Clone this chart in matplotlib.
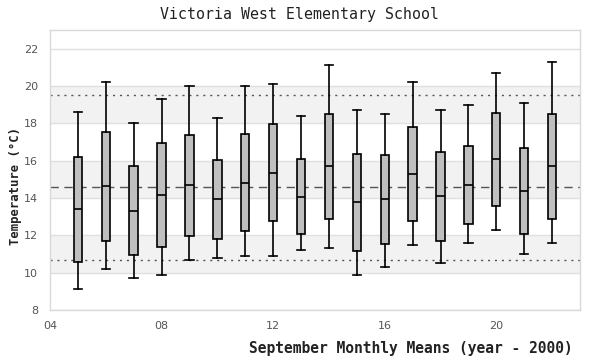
import numpy as np
import matplotlib
matplotlib.use("Agg")
import matplotlib.pyplot as plt

# data (year - 2000)
years = [5, 6, 7, 8, 9, 10, 11, 12, 13, 14, 15, 16, 17, 18, 19, 20, 21, 22]
whislo = [9.13, 10.20, 9.71, 9.88, 10.68, 10.79, 10.89, 10.89, 11.21,
          11.32, 9.88, 10.30, 11.48, 10.52, 11.59, 12.29, 11.00, 11.59]
q1 = [10.59, 11.70, 10.95, 11.38, 11.96, 11.80, 12.23, 12.77, 12.09,
      12.88, 11.16, 11.54, 12.77, 11.70, 12.61, 13.57, 12.07, 12.88]
med = [13.41, 14.64, 13.30, 14.16, 14.70, 13.95, 14.80, 15.34, 14.07,
       15.71, 13.79, 13.95, 15.29, 14.11, 14.70, 16.09, 14.38, 15.71]
q3 = [16.20, 17.54, 15.71, 16.95, 17.38, 16.04, 17.43, 17.96, 16.09,
      18.50, 16.36, 16.30, 17.80, 16.46, 16.79, 18.55, 16.68, 18.50]
whishi = [18.61, 20.21, 18.02, 19.30, 20.02, 18.29, 20.02, 20.11, 18.39,
          21.13, 18.71, 18.50, 20.21, 18.71, 18.98, 20.70, 19.09, 21.29]

mean_line = 14.59
upper_line = 19.52
lower_line = 10.68

xticks = [4, 8, 12, 16, 20]
xticklabels = ["04", "08", "12", "16", "20"]
yticks = [8, 10, 12, 14, 16, 18, 20, 22]
bands = [(10, 12), (14, 16), (18, 20)]

MONO = "DejaVu Sans Mono"
TICK_COLOR = "#555555"

fig = plt.figure(figsize=(6.0, 3.6), dpi=100)
ax = fig.add_axes([50 / 600, 50 / 360, 530 / 600, 280 / 360])

# background bands + grid
for lo, hi in bands:
    ax.axhspan(lo, hi, color="#f2f2f2", lw=0, zorder=0)
for y in yticks:
    ax.axhline(y, color="#e0e0e0", lw=1.0, zorder=0.5)

ax.axhline(mean_line, color="#555555", lw=1.0, ls=(0, (6, 4)), zorder=1)
ax.axhline(upper_line, color="#555555", lw=1.0, ls=(0, (1.5, 3.5)), zorder=1)
ax.axhline(lower_line, color="#555555", lw=1.0, ls=(0, (1.5, 3.5)), zorder=1)

stats = []
for i in range(len(years)):
    stats.append(dict(whislo=whislo[i], q1=q1[i], med=med[i], q3=q3[i],
                      whishi=whishi[i], fliers=[]))

ax.bxp(stats, positions=years, widths=0.3, capwidths=0.3, patch_artist=True,
       showfliers=False, manage_ticks=False,
       boxprops=dict(facecolor="#bfbfbf", edgecolor="black", lw=1.2),
       medianprops=dict(color="black", lw=1.2),
       whiskerprops=dict(color="black", lw=1.2),
       capprops=dict(color="black", lw=1.2),
       zorder=3)

ax.set_xlim(4, 23)
ax.set_ylim(8, 23)
ax.set_xticks(xticks)
ax.set_xticklabels(xticklabels)
ax.set_yticks(yticks)
ax.tick_params(length=0, labelsize=8, labelcolor=TICK_COLOR)
ax.tick_params(axis="y", pad=8.5)
ax.tick_params(axis="x", pad=8)
for s in ax.spines.values():
    s.set_color("#d9d9d9")
    s.set_linewidth(1.0)

fig.text(0.5, 1 - 14 / 360, "Victoria West Elementary School", family=MONO,
         fontsize=10.7, color="#222222", ha="center", va="center")
fig.text(573 / 600, 1 - 348 / 360, "September Monthly Means (year - 2000)",
         family=MONO, fontsize=10.5, fontweight="bold", color="#222222",
         ha="right", va="center")
fig.text(16 / 600, 1 - 186 / 360, "Temperature (°C)", family=MONO,
         fontsize=8.8, fontweight="bold", color="#222222", rotation=90,
         ha="center", va="center")

fig.savefig("out.png", dpi=100)
